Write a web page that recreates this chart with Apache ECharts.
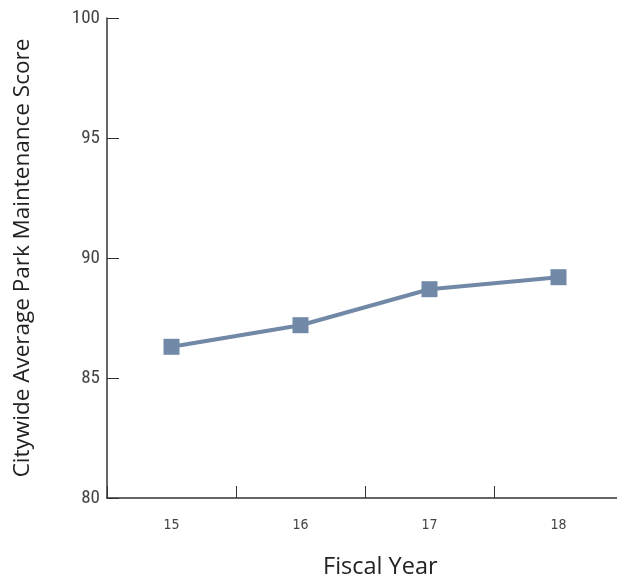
<!DOCTYPE html>
<html><head><meta charset="utf-8">
<script src="https://cdn.jsdelivr.net/npm/echarts@6/dist/echarts.min.js"></script>
<style>html,body{margin:0;padding:0;background:#fff}#c{width:617px;height:582px}</style>
</head><body><div id="c"></div>
<script>
const categories = ['15', '16', '17', '18'];
const scores = [86.3, 87.2, 88.7, 89.2];
const yTicks = [80, 85, 90, 95, 100];

const chart = echarts.init(document.getElementById('c'));
chart.setOption({
  animation: false,
  grid: { left: 107, top: 18, height: 480, width: 516, outerBoundsMode: 'none', containLabel: false },
  xAxis: {
    type: 'category',
    data: categories,
    boundaryGap: true,
    axisLine: { lineStyle: { color: '#333', width: 1.5 } },
    axisTick: { show: true, inside: true, length: 12, lineStyle: { color: '#333', width: 1 }, interval: 0 },
    axisLabel: { color: '#444', fontSize: 14, margin: 20, fontFamily: 'DejaVu Sans Condensed, Roboto' }
  },
  yAxis: {
    type: 'value',
    min: yTicks[0], max: yTicks[yTicks.length - 1], interval: 5,
    name: 'Citywide Average Park Maintenance Score',
    nameLocation: 'middle', nameGap: 73,
    nameTextStyle: { color: '#222', fontSize: 22.5, fontFamily: 'Open Sans' },
    splitLine: { show: false },
    axisLine: { show: true, lineStyle: { color: '#333', width: 1.5 } },
    axisTick: { show: true, inside: true, length: 12, lineStyle: { color: '#333' } },
    axisLabel: { color: '#444', fontSize: 19, margin: 7, fontFamily: 'Roboto Condensed, Roboto' }
  },
  graphic: [{
    type: 'text', left: 323, top: 555,
    style: { text: 'Fiscal Year', fontSize: 23.5, fill: '#222', fontFamily: 'Open Sans' }
  }],
  series: [{
    type: 'line',
    data: scores,
    symbol: 'rect', symbolSize: 16,
    lineStyle: { color: '#7189a6', width: 4 },
    itemStyle: { color: '#7189a6' }
  }]
});
</script></body></html>
